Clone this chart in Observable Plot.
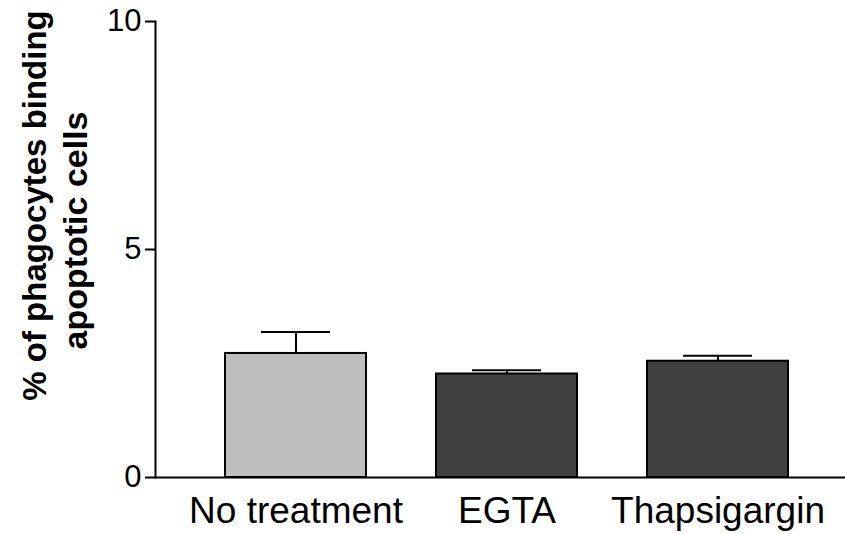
<!DOCTYPE html>
<html>
<head>
<meta charset="utf-8">
<script src="https://cdn.jsdelivr.net/npm/d3@7"></script>
<script src="https://cdn.jsdelivr.net/npm/@observablehq/plot@0.6"></script>
<style>
  html, body { margin: 0; padding: 0; background: #fff; }
  svg { font-family: "Liberation Sans", Arial, sans-serif; }
</style>
</head>
<body>
<div id="chart"></div>
<script>
const categories = ["No treatment", "EGTA", "Thapsigargin"];
const means = [2.72, 2.27, 2.55];
const errors = [0.47, 0.08, 0.12];
const fills = ["#bebebe", "#404040", "#404040"];
const yTicks = [0, 5, 10];
const yTitleLine1 = "% of phagocytes binding";
const yTitleLine2 = "apoptotic cells";

const data = categories.map((c, i) => ({cat: c, mean: means[i], err: errors[i], fill: fills[i]}));

const chart = Plot.plot({
  width: 845,
  height: 534,
  marginLeft: 155,
  marginRight: 0,
  marginTop: 21,
  marginBottom: 57,
  style: {fontFamily: "Liberation Sans, Arial, sans-serif", color: "#000", background: "#fff"},
  x: {domain: categories, padding: 0.332, paddingOuter: 0.166, insetLeft: 35, insetRight: 22, label: null},
  y: {domain: [0, 10], label: null},
  marks: [
    Plot.barY(data, {x: "cat", y: "mean", fill: "fill", stroke: "#000", strokeWidth: 2}),
    Plot.ruleX(data, {x: "cat", y1: "mean", y2: d => d.mean + d.err, stroke: "#000", strokeWidth: 2}),
    Plot.tickY(data, {x: "cat", y: d => d.mean + d.err, stroke: "#000", strokeWidth: 2, insetLeft: 36, insetRight: 36}),
    Plot.frame({anchor: "left", stroke: "#000", strokeWidth: 2}),
    Plot.ruleY([0], {stroke: "#000", strokeWidth: 2}),
    Plot.axisY({ticks: yTicks, tickSize: 10, tickPadding: 4, fontSize: 31, strokeWidth: 2, tickFormat: d3.format("d"), label: null}),
    Plot.axisX({tickSize: 0, tickPadding: 19, fontSize: 37, label: null}),
    Plot.text([yTitleLine1], {frameAnchor: "left", rotate: -90, dx: -120, dy: -44, fontSize: 33, fontWeight: "bold", textAnchor: "middle", lineAnchor: "middle", fill: "#000"}),
    Plot.text([yTitleLine2], {frameAnchor: "left", rotate: -90, dx: -79, dy: -19, fontSize: 34, fontWeight: "bold", textAnchor: "middle", lineAnchor: "middle", fill: "#000"})
  ]
});
document.getElementById("chart").appendChild(chart);
</script>
</body>
</html>
